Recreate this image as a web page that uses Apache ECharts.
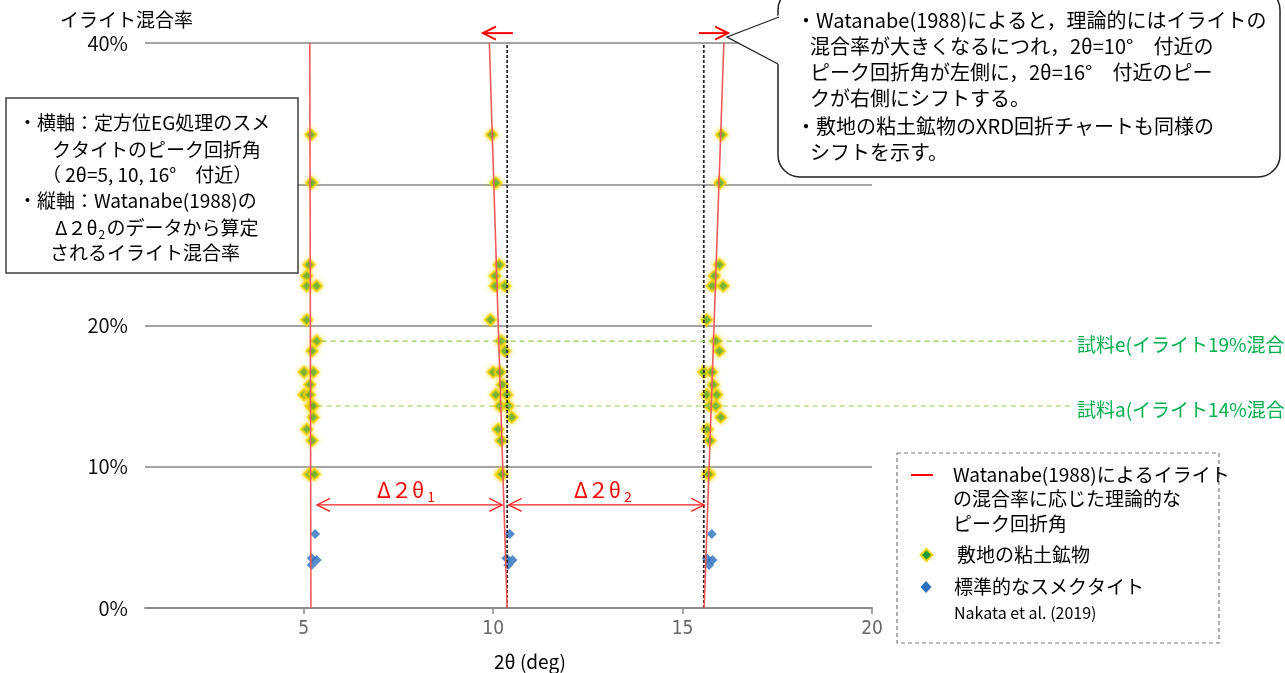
<!DOCTYPE html>
<html><head><meta charset="utf-8">
<script src="https://cdn.jsdelivr.net/npm/echarts@6/dist/echarts.min.js"></script>
<style>html,body{margin:0;padding:0;background:#fff}#c{width:1285px;height:673px}</style>
</head><body><div id="c"></div>
<script>
// ---- data ----
const illiteRate = [33.5,30.1,24.3,23.5,22.8,22.8,20.4,18.9,18.2,16.7,16.7,15.8,15.1,15.1,14.3,14.3,13.5,12.65,11.85,9.47,9.47];
const peak5  = [5.19,5.21,5.14,5.08,5.08,5.34,5.08,5.34,5.22,5.01,5.25,5.16,5.01,5.15,5.19,5.25,5.25,5.08,5.22,5.14,5.28];
const peak10 = [9.96,10.07,10.16,10.05,10.05,10.31,9.93,10.21,10.31,10.00,10.18,10.24,10.07,10.36,10.18,10.40,10.49,10.13,10.21,10.21,10.23];
const peak16 = [16.03,15.99,15.97,15.84,15.78,16.07,15.64,15.88,15.97,15.56,15.77,15.81,15.64,15.90,15.72,15.88,16.01,15.65,15.72,15.68,15.69];
const smectiteRate = [5.24,3.52,3.40,3.04];
const smectite5  = [5.30,5.21,5.34,5.21];
const smectite10 = [10.44,10.35,10.51,10.40];
const smectite16 = [15.77,15.64,15.79,15.70];
const theoryRate = [40,0];
const theory5  = [5.16,5.19];
const theory10 = [9.90,10.37];
const theory16 = [16.09,15.57];
const refPeaks = [10.37,15.56];
const sampleNames = ['試料e(イライト19%混合','試料a(イライト14%混合'];
const sampleRates = [18.9,14.3];
const sampleStart = [5.47,5.37];
const xTicks = [5,10,15,20];
const yTickStep = 10;

const CJK = "'Noto Sans CJK JP'";
const chart = echarts.init(document.getElementById('c'));
const pairs = (xs, ys) => xs.map((x,i)=>[x, ys[i]]);
const greenStyle = {color:'#1f9a3c', borderColor:'#f2d20a', borderWidth:2, shadowBlur:4, shadowColor:'rgba(255,215,0,0.9)'};
const blueStyle = {color:'#2b6fbd'};
const redLine = {color:'#f05a5a', width:1.6};
const series = [];
[peak5, peak10, peak16].forEach(xs=>{
  series.push({type:'scatter', symbol:'diamond', symbolSize:11, data:pairs(xs, illiteRate), itemStyle:greenStyle, z:3});
});
[smectite5, smectite10, smectite16].forEach(xs=>{
  series.push({type:'scatter', symbol:'diamond', symbolSize:10, data:pairs(xs, smectiteRate), itemStyle:blueStyle, z:3});
});
[theory5, theory10, theory16].forEach(xs=>{
  series.push({type:'line', symbol:'none', data:pairs(xs, theoryRate), lineStyle:redLine, z:5, silent:true});
});
refPeaks.forEach(x=>{
  series.push({type:'line', symbol:'none', data:[[x,0],[x,40]], lineStyle:{color:'#222', width:1.7, type:[3,2]}, z:4});
});

const option = {
  animation:false,
  backgroundColor:'#ffffff',
  grid:{left:145, right:413, top:43, bottom:65},
  xAxis:{type:'value', min:0.81, max:20,
    axisLine:{show:true, onZero:false, lineStyle:{color:'#8c8c8c', width:2}},
    axisTick:{show:true, customValues:xTicks, length:6, lineStyle:{color:'#8c8c8c', width:1.5}},
    axisLabel:{customValues:xTicks, color:'#666', fontSize:19, margin:12, fontFamily:"'Liberation Sans Narrow','DejaVu Sans Condensed',sans-serif"},
    splitLine:{show:false}},
  yAxis:{type:'value', min:0, max:40, interval:yTickStep,
    axisLine:{show:false}, axisTick:{show:false},
    axisLabel:{formatter:'{value}%', color:'#111', fontSize:20, margin:17, fontFamily:CJK},
    splitLine:{show:true, lineStyle:{color:'#a3a3a3', width:2}}},
  series
};
chart.setOption(option);

// ---- annotations ----
const P = (x,y)=>chart.convertToPixel({gridIndex:0},[x,y]);
const mctx = document.createElement('canvas').getContext('2d');
const measure = (s, font)=>{ mctx.font = font; return mctx.measureText(s).width; };
const g = [];
function T(x,y,s,size,fill,extra){
  const font = `${size}px ${CJK}`;
  g.push(Object.assign({type:'text', x, y, z:120, style:{text:s, fill:fill||'#000', font, align:'left', verticalAlign:'middle', textAlign:'left', textVerticalAlign:'middle'}}, extra||{}));
  return measure(s, font);
}
function L(x1,y1,x2,y2,stroke,w,dash){
  g.push({type:'line', z:115, shape:{x1,y1,x2,y2}, style:{stroke, lineWidth:w, lineDash:dash||null}});
}
function arrowHead(tx,ty,dir,len,half,stroke,w){
  g.push({type:'polyline', z:115, shape:{points:[[tx-dir*len,ty-half],[tx,ty],[tx-dir*len,ty+half]]}, style:{stroke, lineWidth:w, fill:null}});
}

// axis names
T(60, 20, 'イライト混合率', 19);
T(494, 662, '2θ (deg)', 19);

// sample guide lines + labels
sampleRates.forEach((r,i)=>{
  const a = P(sampleStart[i], r);
  L(a[0], a[1], 1072, a[1], '#92d050', 1.2, [5,4]);
  T(1077, a[1]+4, sampleNames[i], 19, '#00b050');
});

// Δ2θ arrows
const dy = 7.3;
const a1 = P(5.35, dy), b1 = P(10.24, dy), a2 = P(10.41, dy), b2 = P(15.57, dy);
[[a1,b1],[a2,b2]].forEach(([a,b],i)=>{
  L(a[0],a[1],b[0],b[1],'#ff2020',1.3);
  arrowHead(a[0],a[1],-1,13,6.5,'#ff2020',1.3);
  arrowHead(b[0],b[1],1,13,6.5,'#ff2020',1.3);
  const cx = (a[0]+b[0])/2;
  const f = `21px ${CJK}`;
  const w = measure('Δ２θ', f);
  const x0 = cx - (w+10)/2 - 4;
  T(x0, a[1]-15, 'Δ２θ', 21, '#ff0000');
  T(x0+w+3, a[1]-8, String(i+1), 14, '#ff0000');
});

// shift arrows at top
const s1a = P(10.52, 40.7), s1b = P(9.73, 40.7);
L(s1a[0],s1a[1],s1b[0],s1b[1],'#ff0000',2);
arrowHead(s1b[0],s1b[1],-1,13,6.5,'#ff0000',2);
const s2a = P(15.43, 40.7), s2b = P(16.20, 40.7);
L(s2a[0],s2a[1],s2b[0],s2b[1],'#ff0000',2);
arrowHead(s2b[0],s2b[1],1,13,6.5,'#ff0000',2);

// left explanation box
g.push({type:'rect', z:110, shape:{x:6, y:98, width:292, height:175}, style:{fill:'#fff', stroke:'#404040', lineWidth:1.5}});
T(18, 123, '・横軸：定方位EG処理のスメ', 19);
T(52, 150, 'クタイトのピーク回折角', 19);
T(42, 175, '（ 2θ=5, 10, 16°　付近）', 19);
T(18, 201, '・縦軸：Watanabe(1988)の', 19);
let wx = T(55, 228, 'Δ２θ', 19);
T(55+wx+1, 234, '2', 12);
T(55+wx+9, 228, 'のデータから算定', 19);
T(50, 253, 'されるイライト混合率', 19);

// callout
g.push({type:'rect', z:110, shape:{x:778, y:-12, width:502, height:189, r:22}, style:{fill:'#fff', stroke:'#222', lineWidth:1.5}});
g.push({type:'polygon', z:111, shape:{points:[[782,14],[727,37],[782,66]]}, style:{fill:'#fff', stroke:null}});
g.push({type:'polyline', z:112, shape:{points:[[779,17],[727,37],[778,64]]}, style:{stroke:'#222', lineWidth:1.3, fill:null}});
const cl = ['・Watanabe(1988)によると，理論的にはイライトの',
            '混合率が大きくなるにつれ，2θ=10°　付近の',
            'ピーク回折角が左側に，2θ=16°　付近のピー',
            'クが右側にシフトする。',
            '・敷地の粘土鉱物のXRD回折チャートも同様の',
            'シフトを示す。'];
const cx0 = [796, 810, 810, 810, 796, 810];
const cy0 = [20, 46, 72, 98, 126, 152];
cl.forEach((s,i)=>T(cx0[i], cy0[i], s, 20));

// legend
g.push({type:'rect', z:110, shape:{x:897, y:453, width:322, height:190}, style:{fill:'#fff', stroke:'#7a7a7a', lineWidth:1.2, lineDash:[4,3]}});
L(911, 475, 933, 475, '#ff0000', 2);
T(953, 475, 'Watanabe(1988)によるイライト', 19);
T(953, 499, 'の混合率に応じた理論的な', 19);
T(953, 524, 'ピーク回折角', 19);
g.push({type:'polygon', z:116, shape:{points:[[926.5,549],[932.5,555],[926.5,561],[920.5,555]]}, style:{fill:'#1f9a3c', stroke:'#f2d20a', lineWidth:2}});
T(957, 555, '敷地の粘土鉱物', 19);
g.push({type:'polygon', z:116, shape:{points:[[926,581],[931.5,587],[926,593],[920.5,587]]}, style:{fill:'#2b6fbd'}});
T(954, 587, '標準的なスメクタイト', 19);
T(954, 613, 'Nakata et al. (2019)', 16);

chart.setOption({graphic:{elements:g}});
</script></body></html>
